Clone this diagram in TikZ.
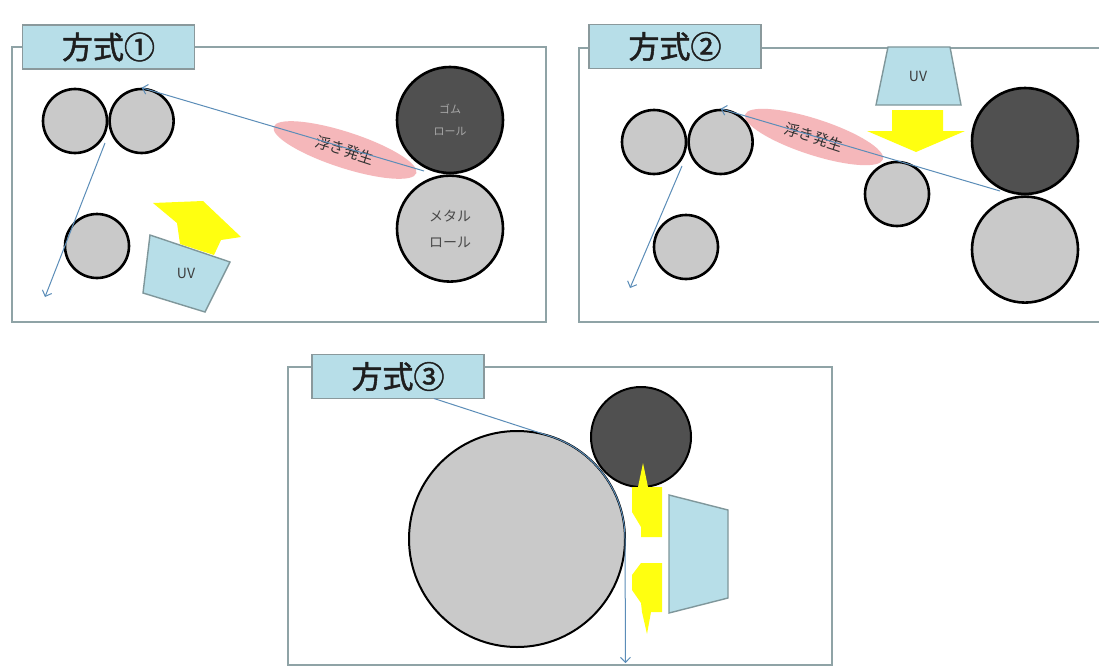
\documentclass[tikz,border=0pt]{standalone}
\usepackage{fontspec}
\newfontfamily\jp{Noto Sans CJK JP}
\newfontfamily\jphead{Noto Sans CJK JP}[FakeBold=1.6]
\usepackage{tikz}
\usetikzlibrary{arrows.meta,positioning,shapes.geometric,calc}
\definecolor{framegray}{HTML}{8FA3A6}
\definecolor{tagedge}{HTML}{8A999C}
\definecolor{tagblue}{HTML}{B7DEE8}
\definecolor{lampedge}{HTML}{7F979B}
\definecolor{rollgray}{HTML}{C9C9C9}
\definecolor{rubbergray}{HTML}{505050}
\definecolor{liftpink}{HTML}{F5B7BA}
\definecolor{webblue}{HTML}{5B8DB8}
\definecolor{beamyellow}{HTML}{FFFF10}
\definecolor{titleink}{HTML}{1E1E1E}
\definecolor{rubberink}{HTML}{A8A8A8}
\definecolor{metalink}{HTML}{4A4A4A}
\definecolor{liftink}{HTML}{303030}
\definecolor{uvink}{HTML}{3C3C3C}

\begin{document}
\begin{tikzpicture}[x=1pt,y=-1pt,>={Straight Barb[length=5pt,width=10pt]},
  frame/.style={draw=framegray,line width=2.2pt},
  tag/.style={rectangle,draw=tagedge,fill=tagblue,line width=1.6pt,minimum width=172pt,minimum height=44pt,inner sep=0pt,font=\jphead\fontsize{31}{31}\selectfont,text=titleink},
  roll/.style={circle,draw=black,fill=rollgray,line width=2.6pt,inner sep=0pt,minimum size=64pt,align=center},
  rubber/.style={roll,fill=rubbergray,minimum size=106pt,text=rubberink,font=\jp\fontsize{11}{22}\selectfont},
  metal/.style={roll,minimum size=106pt,text=metalink,font=\jp\fontsize{14}{26}\selectfont},
  lift/.style={ellipse,fill=liftpink,minimum width=150pt,minimum height=36pt,inner sep=0pt,font=\jp\fontsize{15}{15}\selectfont,text=liftink},
  web/.style={draw=webblue,line width=1pt},
  lamp/.style={fill=tagblue,draw=lampedge,line width=1.4pt},
  beam/.style={fill=beamyellow},
  uv/.style={font=\jp\fontsize{14}{14}\selectfont,text=uvink}]
  \useasboundingbox (0,0) rectangle (1099,669);
  \fill[white] (0,0) rectangle (1099,669);

  \draw[frame] (12,47) rectangle (546,322);
  \node[tag] (tag1) at (108.5,47) {方式①};
  \node[lift,rotate=-18] (lift1) at (345,150) {浮き発生};
  \node[roll] (a1) at (75,121) {};
  \node[roll,right=0pt] (b1) at (a1.east) {};
  \node[roll] (c1) at (97,246) {};
  \node[rubber] (rub1) at (450,120) {ゴム\\ロール};
  \node[metal,below=0pt] (met1) at (rub1.south) {メタル\\ロール};
  \filldraw[lamp] (150,235) -- (230,262) -- (205,312) -- (143,293) -- cycle;
  \node[uv] (uv1) at (186,273) {UV};
  \fill[beam] (153,203) -- (203,201) -- (241,237) -- (221,240) -- (214,255) -- (180,244) -- (177,223) -- cycle;
  \coordinate (nip1) at (424,171);
  \coordinate (ab1) at (105,143);
  \coordinate (out1) at (45,297);
  \draw[web,->] (nip1) -- (b1.north);
  \draw[web,->] (ab1) -- (out1);

  \draw[frame] (579,48) rectangle (1103,322);
  \node[tag] (tag2) at (675,46.5) {方式②};
  \filldraw[lamp] (888,47) -- (950,47) -- (961,105) -- (876,105) -- cycle;
  \node[uv] (uv2) at (918,76) {UV};
  \fill[beam] (867,131) -- (892,131) -- (892,110) -- (943,110) -- (943,131) -- (965,131) -- (916,152) -- cycle;
  \node[lift,rotate=-18,minimum width=145pt] (lift2) at (814,137) {浮き発生};
  \node[roll] (a2) at (654,142) {};
  \node[roll,right=0pt] (b2) at (a2.east) {};
  \node[roll] (c2) at (686,247) {};
  \node[roll] (d2) at (897,194) {};
  \node[rubber] (rub2) at (1025,141) {};
  \node[metal,below=0pt] (met2) at (rub2.south) {};
  \coordinate (nip2) at (1000,191);
  \coordinate (ab2) at (682,166);
  \coordinate (out2) at (630,288);
  \draw[web,->] (nip2) -- (b2.north);
  \draw[web,->] (ab2) -- (out2);

  \draw[frame] (288,367) rectangle (832,665);
  \node[tag] (tag3) at (398,376.5) {方式③};
  \node[roll,minimum size=216pt,line width=2pt] (big3) at (517,539) {};
  \node[rubber,minimum size=100pt,line width=2pt] (rub3) at (641,437) {};
  \filldraw[lamp] (669,495) -- (728,510) -- (728,598) -- (669,613) -- cycle;
  \fill[beam] (643,463) -- (648,487) -- (662,487) -- (662,537) -- (641,537) -- (641,527) -- (632,512) -- (632,487) -- (638,487) -- cycle;
  \fill[beam] (641,563) -- (662,563) -- (662,612) -- (651,612) -- (647,634) -- (642,612) -- (641,603) -- (632,590) -- (632,575) -- cycle;
  \coordinate (in3) at (434,398.5);
  \coordinate (out3) at (625.5,663);
  \draw[web,->] (in3) -- ($(big3.center)+(-71.7:108)$) arc[start angle=-71.7,end angle=0,radius=108] -- (out3);
\end{tikzpicture}
\end{document}
